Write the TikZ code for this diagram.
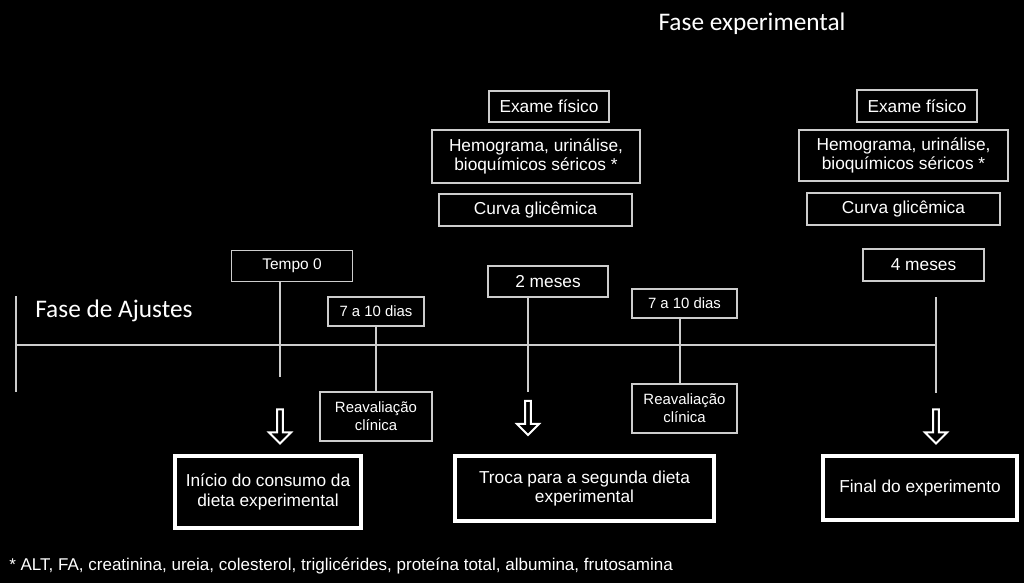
\documentclass[tikz,border=0pt]{standalone}
\usepackage{fontspec}
\setmainfont{Liberation Sans}
\newfontfamily\titlefont{Carlito}
\usetikzlibrary{shapes.arrows}
\definecolor{boxgray}{RGB}{205,205,205}

\begin{document}
\begin{tikzpicture}[x=0.025cm, y=-0.025cm,
    every node/.style={text=white, align=center, inner sep=0pt,
      font=\fontsize{12.3}{14}\selectfont},
    thinbox/.style={draw=boxgray, line width=1.1pt},
    thickbox/.style={draw=white, line width=2.2pt},
    tline/.style={draw=boxgray, line width=1.1pt},
    phase/.style={font=\titlefont\fontsize{18}{20}\selectfont},
    small/.style={font=\fontsize{10.6}{13}\selectfont},
    downarrow/.style={single arrow, draw=white, line width=1.4pt, fill=black,
      rotate=-90, minimum height=0.85cm, minimum width=0.55cm,
      single arrow head extend=0.07cm}]
    \useasboundingbox[fill=black] (0,0) rectangle (1024,583);

    \node[phase] (fexp) at (752, 24) {Fase experimental};
    \node[phase, anchor=west] (faj) at (35, 311) {Fase de Ajustes};

    % exams at 2 and 4 months
    \node[thinbox, minimum width=3cm, minimum height=0.775cm] (ex1) at (549, 106.5) {Exame físico};
    \node[thinbox, minimum width=5.2cm, minimum height=1.325cm] (hem1) at (536, 156.5) {Hemograma, urinálise,\\ bioquímicos séricos *};
    \node[thinbox, minimum width=4.825cm, minimum height=0.8cm] (cg1) at (535.5, 210) {Curva glicêmica};
    \node[thinbox, minimum width=3cm, minimum height=0.8cm] (ex2) at (917, 106) {Exame físico};
    \node[thinbox, minimum width=5.225cm, minimum height=1.275cm] (hem2) at (903.5, 155.5) {Hemograma, urinálise,\\ bioquímicos séricos *};
    \node[thinbox, minimum width=4.825cm, minimum height=0.8cm] (cg2) at (903.5, 209) {Curva glicêmica};

    % time labels
    \node[thinbox, minimum width=3.025cm, minimum height=0.775cm, font=\fontsize{11}{13}\selectfont] (t0) at (292, 266) {Tempo 0};
    \node[thinbox, minimum width=3cm, minimum height=0.775cm] (m2) at (548, 281.5) {2 meses};
    \node[thinbox, minimum width=3.025cm, minimum height=0.8cm] (m4) at (923.5, 265) {4 meses};
    \node[thinbox, small, minimum width=2.4cm, minimum height=0.725cm] (d1) at (376, 311.5) {7 a 10 dias};
    \node[thinbox, small, minimum width=2.625cm, minimum height=0.725cm] (d2) at (684.5, 303.5) {7 a 10 dias};
    \node[thinbox, small, minimum width=2.8cm, minimum height=1.225cm] (r1) at (376, 416.5) {Reavaliação\\ clínica};
    \node[thinbox, small, minimum width=2.625cm, minimum height=1.225cm] (r2) at (684.5, 408.5) {Reavaliação\\ clínica};

    % events
    \node[thickbox, minimum width=4.65cm, minimum height=1.8cm] (ini) at (268, 492) {Início do consumo da\\ dieta experimental};
    \node[thickbox, minimum width=6.475cm, minimum height=1.625cm] (troca) at (584.5, 488.5) {Troca para a segunda dieta\\ experimental};
    \node[thickbox, minimum width=4.85cm, minimum height=1.6cm] (fim) at (920, 488) {Final do experimento};

    \node[downarrow] (a1) at (280, 425) {};
    \node[downarrow] (a2) at (528, 416.5) {};
    \node[downarrow] (a3) at (936, 425) {};

    % timeline
    \coordinate (start) at (16, 345);
    \coordinate (end) at (936, 345);
    \coordinate (sttop) at (16, 296);
    \coordinate (stbot) at (16, 392);
    \coordinate (t0bot) at (280, 377);
    \coordinate (m2bot) at (528, 392);
    \coordinate (d2line) at (680, 0);
    \coordinate (m4top) at (936, 297);
    \coordinate (m4bot) at (936, 393);

    \draw[tline] (start) -- (end);
    \draw[tline] (sttop) -- (stbot);
    \draw[tline] (t0bot |- t0.south) -- (t0bot);
    \draw[tline] (m2bot |- m2.south) -- (m2bot);
    \draw[tline] (d1) -- (r1);
    \draw[tline] (d2.south -| d2line) -- (r2.north -| d2line);
    \draw[tline] (m4top) -- (m4bot);

    \node[anchor=west, font=\fontsize{12.1}{14}\selectfont] (nota) at (9, 566)
      {* ALT, FA, creatinina, ureia, colesterol, triglicérides, proteína total, albumina, frutosamina};
\end{tikzpicture}
\end{document}
